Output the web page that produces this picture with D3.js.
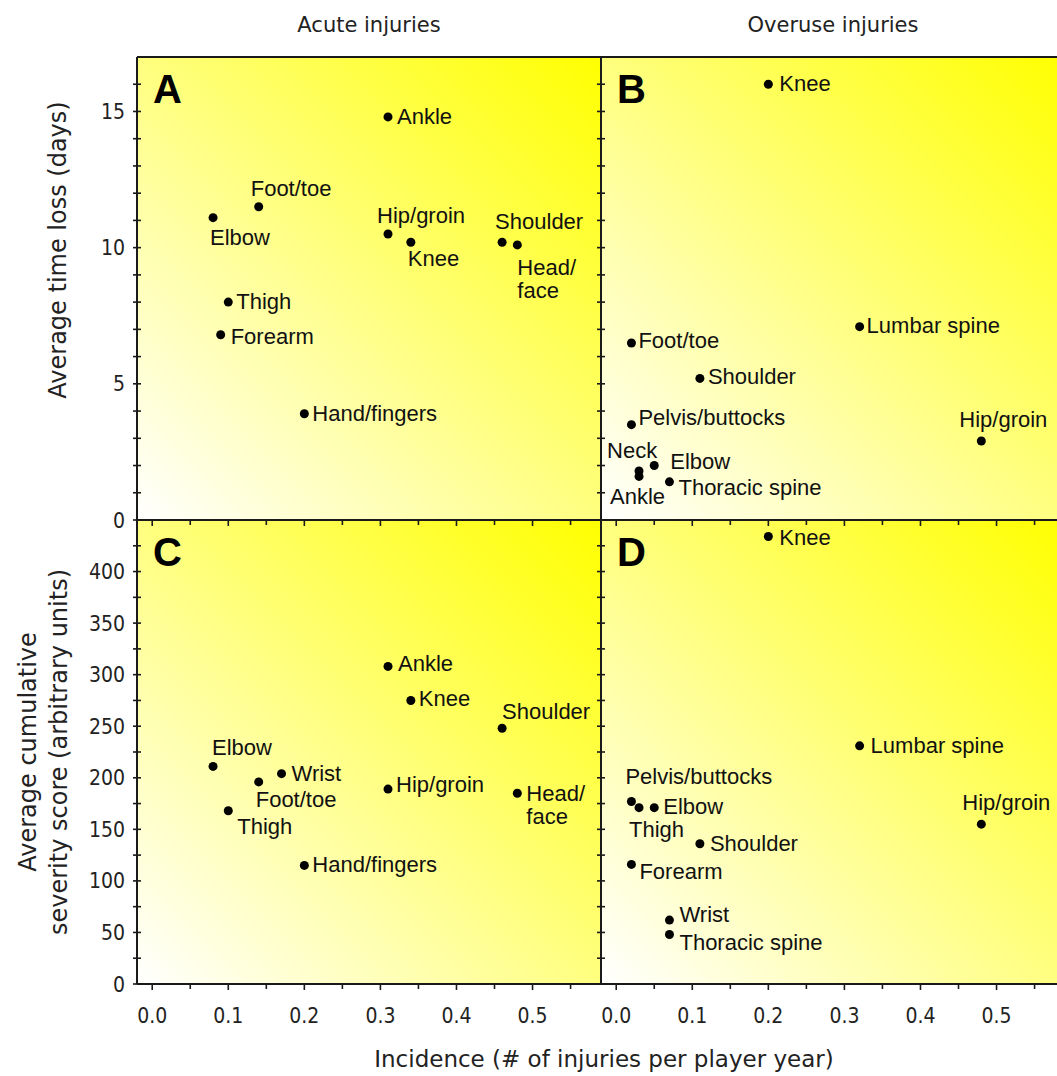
<!DOCTYPE html>
<html>
<head>
<meta charset="utf-8">
<script src="https://cdn.jsdelivr.net/npm/d3@7"></script>
<style>
  html, body { margin: 0; padding: 0; background: #ffffff; }
  svg { display: block; }
</style>
</head>
<body>
<svg id="chart" width="1057" height="1076"></svg>
<script>
// ---------------- DATA ----------------
const columnTitles = ["Acute injuries", "Overuse injuries"];
const panelLetters = ["A", "B", "C", "D"];
const xTickValues = [0.0, 0.1, 0.2, 0.3, 0.4, 0.5];
const timeTickValues = [0, 5, 10, 15];
const severityTickValues = [0, 50, 100, 150, 200, 250, 300, 350, 400];

// Panel A: acute injuries, time loss
const acuteTimeRegions = ["Ankle", "Foot/toe", "Elbow", "Hip/groin", "Knee", "Shoulder", "Head/face", "Thigh", "Forearm", "Hand/fingers"];
const acuteTimeIncidence = [0.31, 0.14, 0.08, 0.31, 0.34, 0.46, 0.48, 0.10, 0.09, 0.20];
const acuteTimeLoss = [14.8, 11.5, 11.1, 10.5, 10.2, 10.2, 10.1, 8.0, 6.8, 3.9];

// Panel B: overuse injuries, time loss
const overuseTimeRegions = ["Knee", "Lumbar spine", "Foot/toe", "Shoulder", "Pelvis/buttocks", "Hip/groin", "Neck", "Elbow", "Ankle", "Thoracic spine"];
const overuseTimeIncidence = [0.20, 0.32, 0.02, 0.11, 0.02, 0.48, 0.03, 0.05, 0.03, 0.07];
const overuseTimeLoss = [16.0, 7.1, 6.5, 5.2, 3.5, 2.9, 1.8, 2.0, 1.6, 1.4];

// Panel C: acute injuries, severity score
const acuteSevRegions = ["Ankle", "Knee", "Shoulder", "Elbow", "Wrist", "Foot/toe", "Hip/groin", "Head/face", "Thigh", "Hand/fingers"];
const acuteSevIncidence = [0.31, 0.34, 0.46, 0.08, 0.17, 0.14, 0.31, 0.48, 0.10, 0.20];
const acuteSeverity = [308, 275, 248, 211, 204, 196, 189, 185, 168, 115];

// Panel D: overuse injuries, severity score
const overuseSevRegions = ["Knee", "Lumbar spine", "Pelvis/buttocks", "Thigh", "Elbow", "Hip/groin", "Shoulder", "Forearm", "Wrist", "Thoracic spine"];
const overuseSevIncidence = [0.20, 0.32, 0.02, 0.03, 0.05, 0.48, 0.11, 0.02, 0.07, 0.07];
const overuseSeverity = [434, 231, 177, 171, 171, 155, 136, 116, 62, 48];

// ---------------- LAYOUT (label offsets in px: [dx, dy]) ----------------
const labelOffsetsA = [[9,7],[-8,-11],[-3,27],[-11,-11],[-3,24],[-7,-13],[0,30],[8,7],[10,9],[8,7]];
const labelOffsetsB = [[11,7],[7,6],[7,5],[8,6],[7,0],[-22,-14],[-32,-13],[16,3],[-29,28],[9,13]];
const labelOffsetsC = [[10,5],[8,6],[0,-9],[-1,-11],[10,7],[-3,25],[8,3],[9,8],[9,23],[8,7]];
const labelOffsetsD = [[11,9],[11,7],[-6,-17],[-10,29],[9,6],[-19,-14],[10,7],[8,15],[10,2],[10,15]];

const svg = d3.select("#chart");
const L = 137, MX = 601, R = 1065, T = 57, MY = 520, B = 984;

const xDomain = [-0.02, 0.59];
const xLeft = d3.scaleLinear().domain(xDomain).range([L, MX]);
const xRight = d3.scaleLinear().domain(xDomain).range([MX, R]);
const yTime = d3.scaleLinear().domain([0, 17]).range([MY, T]);
const ySev = d3.scaleLinear().domain([0, 450]).range([B, MY]);

const tickFont = "'DejaVu Sans Condensed', 'DejaVu Sans', sans-serif";
const titleFont = "'DejaVu Sans', Verdana, sans-serif";
const labelFont = "'Liberation Sans', Arial, sans-serif";

// gradient
const defs = svg.append("defs");
const grad = defs.append("linearGradient").attr("id", "bg")
  .attr("x1", 0).attr("y1", 1).attr("x2", 1).attr("y2", 0);
grad.append("stop").attr("offset", "0%").attr("stop-color", "#ffffff");
grad.append("stop").attr("offset", "100%").attr("stop-color", "#ffff00");

const panels = [
  {x: xLeft, y: yTime, names: acuteTimeRegions, xs: acuteTimeIncidence, ys: acuteTimeLoss, off: labelOffsetsA, letter: panelLetters[0]},
  {x: xRight, y: yTime, names: overuseTimeRegions, xs: overuseTimeIncidence, ys: overuseTimeLoss, off: labelOffsetsB, letter: panelLetters[1]},
  {x: xLeft, y: ySev, names: acuteSevRegions, xs: acuteSevIncidence, ys: acuteSeverity, off: labelOffsetsC, letter: panelLetters[2]},
  {x: xRight, y: ySev, names: overuseSevRegions, xs: overuseSevIncidence, ys: overuseSeverity, off: labelOffsetsD, letter: panelLetters[3]}
];

// backgrounds
panels.forEach(p => {
  const [x0, x1] = p.x.range();
  const [y0, y1] = p.y.range();
  svg.append("rect").attr("x", x0).attr("y", y1).attr("width", x1 - x0).attr("height", y0 - y1)
    .attr("fill", "url(#bg)");
});

const lineColor = "#1a1a1a";

// ticks on vertical axes (crossing)
function vTicks(xPos, scale, minorStep, maxVal) {
  const vals = d3.range(0, maxVal + 0.001, minorStep);
  svg.append("g").selectAll("line").data(vals).join("line")
    .attr("x1", xPos - 4).attr("x2", xPos + 4)
    .attr("y1", d => scale(d)).attr("y2", d => scale(d))
    .attr("stroke", lineColor).attr("stroke-width", 1.6);
}
vTicks(L, yTime, 1, 16);
vTicks(MX, yTime, 1, 16);
vTicks(L, ySev, 25, 425);
vTicks(MX, ySev, 25, 425);

// ticks on horizontal axes (downward)
function hTicks(yPos, scale) {
  const vals = d3.range(0, 0.5501, 0.05);
  svg.append("g").selectAll("line").data(vals).join("line")
    .attr("x1", d => scale(d)).attr("x2", d => scale(d))
    .attr("y1", yPos).attr("y2", (d, i) => yPos + (i % 2 === 0 ? 6 : 5))
    .attr("stroke", lineColor).attr("stroke-width", 1.6);
}
hTicks(MY, xLeft); hTicks(MY, xRight);
hTicks(B, xLeft); hTicks(B, xRight);

// frame lines
const frame = [[L, T, 1057, T], [L, T, L, B], [MX, T, MX, B], [L, MY, 1057, MY], [L, B, 1057, B]];
svg.append("g").selectAll("line").data(frame).join("line")
  .attr("x1", d => d[0]).attr("y1", d => d[1]).attr("x2", d => d[2]).attr("y2", d => d[3])
  .attr("stroke", lineColor).attr("stroke-width", 2);

// y tick labels
svg.append("g").selectAll("text").data(timeTickValues).join("text")
  .attr("x", L - 12).attr("y", d => yTime(d)).attr("dy", "0.36em")
  .attr("text-anchor", "end").attr("font-family", tickFont).attr("font-size", 21).attr("fill", "#222")
  .text(d => d);
svg.append("g").selectAll("text").data(severityTickValues).join("text")
  .attr("x", L - 12).attr("y", d => ySev(d)).attr("dy", "0.36em")
  .attr("text-anchor", "end").attr("font-family", tickFont).attr("font-size", 21).attr("fill", "#222")
  .text(d => d);

// x tick labels
[xLeft, xRight].forEach(sc => {
  svg.append("g").selectAll("text").data(xTickValues).join("text")
    .attr("x", d => sc(d)).attr("y", 1023)
    .attr("text-anchor", "middle").attr("font-family", tickFont).attr("font-size", 21).attr("fill", "#222")
    .text(d => d3.format(".1f")(d));
});

// column titles
svg.append("text").attr("x", (L + MX) / 2).attr("y", 32).attr("text-anchor", "middle")
  .attr("font-family", titleFont).attr("font-size", 21).attr("fill", "#222").text(columnTitles[0]);
svg.append("text").attr("x", (MX + R) / 2).attr("y", 32).attr("text-anchor", "middle")
  .attr("font-family", titleFont).attr("font-size", 21).attr("fill", "#222").text(columnTitles[1]);

// axis titles
svg.append("text").attr("x", 604).attr("y", 1067).attr("text-anchor", "middle")
  .attr("font-family", titleFont).attr("font-size", 23).attr("fill", "#222")
  .text("Incidence (# of injuries per player year)");
svg.append("text").attr("transform", `translate(66,250) rotate(-90)`).attr("text-anchor", "middle")
  .attr("font-family", titleFont).attr("font-size", 24).attr("fill", "#222")
  .text("Average time loss (days)");
const sevTitle = svg.append("text").attr("transform", `translate(0,${(MY + B) / 2}) rotate(-90)`).attr("text-anchor", "middle")
  .attr("font-family", titleFont).attr("font-size", 24).attr("fill", "#222");
sevTitle.append("tspan").attr("x", 0).attr("y", 36).text("Average cumulative");
sevTitle.append("tspan").attr("x", 0).attr("y", 67).text("severity score (arbitrary units)");

// points & labels
panels.forEach(p => {
  const g = svg.append("g");
  const data = p.names.map((n, i) => ({name: n, x: p.xs[i], y: p.ys[i], off: p.off[i]}));
  g.selectAll("circle").data(data).join("circle")
    .attr("cx", d => p.x(d.x)).attr("cy", d => p.y(d.y)).attr("r", 4.5).attr("fill", "#000");
  const t = g.selectAll("text").data(data).join("text")
    .attr("font-family", labelFont).attr("font-size", 22).attr("fill", "#111");
  t.each(function(d) {
    const sel = d3.select(this);
    const bx = p.x(d.x) + d.off[0], by = p.y(d.y) + d.off[1];
    const lines = d.name === "Head/face" ? ["Head/", "face"] : [d.name];
    lines.forEach((ln, k) => sel.append("tspan").attr("x", bx).attr("y", by + k * 23).text(ln));
  });
  const [x0] = p.x.range();
  const yTop = p.y.range()[1];
  svg.append("text").attr("x", x0 + 16).attr("y", yTop + 46)
    .attr("font-family", labelFont).attr("font-weight", "bold").attr("font-size", 40).attr("fill", "#000")
    .text(p.letter);
});
</script>
</body>
</html>
